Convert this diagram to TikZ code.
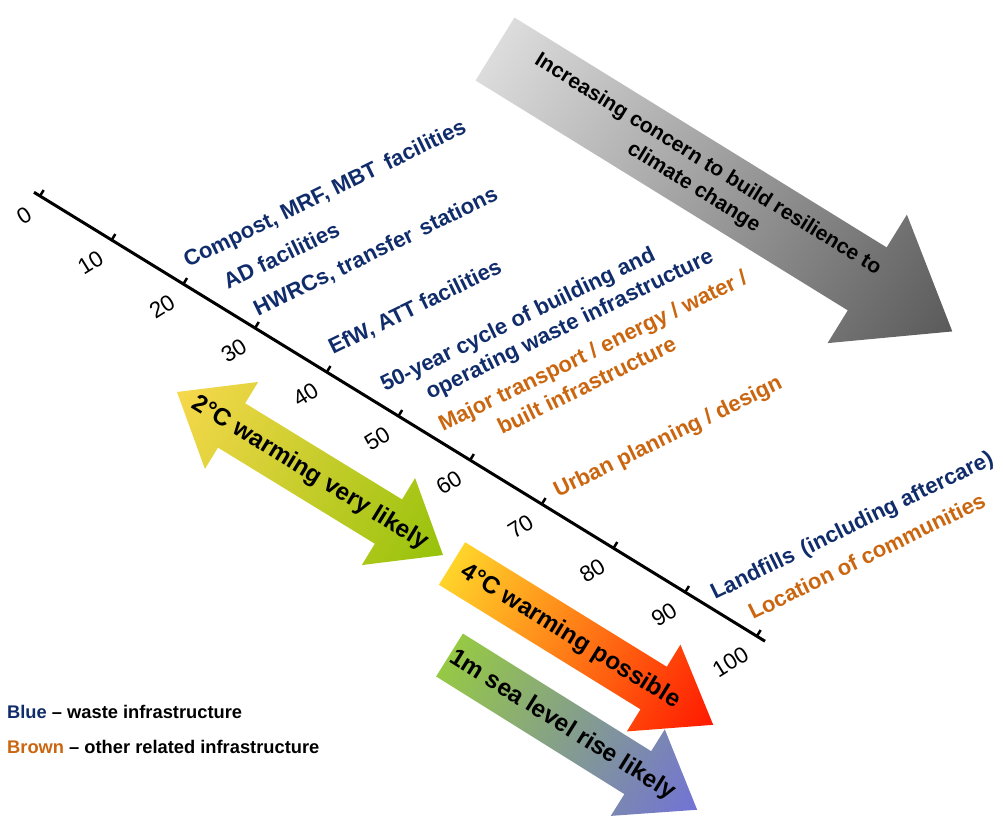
\documentclass[tikz,border=0pt]{standalone}
\usepackage{fontspec}
\setmainfont{Liberation Sans}
\usetikzlibrary{calc}
\definecolor{wasteblue}{HTML}{102C6A}
\definecolor{otherbrown}{HTML}{CB6610}
\definecolor{greylight}{HTML}{DCDCDC}
\definecolor{greydark}{HTML}{5A5A5A}
\definecolor{warmyellow}{HTML}{F7D84C}
\definecolor{warmgreen}{HTML}{97C20B}
\definecolor{hotyellow}{HTML}{FFD42A}
\definecolor{hotorange}{HTML}{FE9E1C}
\definecolor{hotred}{HTML}{FF1800}
\definecolor{seagreen}{HTML}{96C944}
\definecolor{seablue}{HTML}{7272D6}
\begin{document}
\begin{tikzpicture}[x=1pt,y=-1pt,
  lbl/.style={anchor=base west, inner sep=0pt, rotate=26,
    font=\fontsize{22}{26}\selectfont\bfseries},
  bluelbl/.style={lbl, text=wasteblue},
  brownlbl/.style={lbl, text=otherbrown},
  ticklbl/.style={anchor=east, inner sep=0pt, rotate=32,
    font=\fontsize{22.5}{26}\selectfont},
  arrowtxt/.style={inner sep=0pt, font=\fontsize{24.3}{28}\selectfont\bfseries},
  axisline/.style={line width=3pt},
  tickmark/.style={line width=2.5pt},
  legend/.style={anchor=base west, inner sep=0pt,
    font=\fontsize{18.3}{22}\selectfont\bfseries}]
\useasboundingbox (0,0) rectangle (1003,816);

% big grey trend arrow
\begin{scope}[transform canvas={shift={(495,49)}, rotate=-31.7}]
  \shade[left color=greylight, right color=greydark]
    (0,-37) -- (437.5,-37) -- (437.5,-75.5) -- (537.5,0)
    -- (437.5,75.5) -- (437.5,37) -- (0,37) -- cycle;
\end{scope}
\node[align=center, inner sep=0pt, rotate=-31.7,
  font=\fontsize{21}{27}\selectfont\bfseries]
  (concern) at (700.7,176.5) {Increasing concern to build resilience to\\climate change};

% 2 degree double arrow
\begin{scope}[transform canvas={shift={(310,473.5)}, rotate=-31.5}]
  \shade[left color=warmyellow, right color=warmgreen]
    (-156,0) -- (-92,-51) -- (-92,-26) -- (92,-26) -- (92,-51) -- (156,0)
    -- (92,51) -- (92,26) -- (-92,26) -- (-92,51) -- cycle;
\end{scope}
\node[arrowtxt, rotate=-31.5] (twodeg) at (310,473.5) {2°C warming very likely};

% sea level arrow
\begin{scope}[transform canvas={shift={(449.5,655)}, rotate=-32}]
  \shade[left color=seagreen, right color=seablue]
    (0,-25.3) -- (222,-25.3) -- (222,-51) -- (292,0)
    -- (222,51) -- (222,25.3) -- (0,25.3) -- cycle;
\end{scope}
\node[arrowtxt, rotate=-32] (sealevel) at (562.3,725.5) {1m sea level rise likely};

% 4 degree arrow
\begin{scope}[transform canvas={shift={(452,563.5)}, rotate=-31.7}]
  \shade[left color=hotyellow, middle color=hotorange, right color=hotred]
    (0,-25) -- (237,-25) -- (237,-51) -- (307,0)
    -- (237,51) -- (237,25) -- (0,25) -- cycle;
\end{scope}
\node[arrowtxt, rotate=-31.7] (fourdeg) at (570.3,636.5) {4°C warming possible};

% time axis
\coordinate (axS) at (34,192.3);
\coordinate (axE) at (765,641.2);
\draw[axisline] (axS) -- (axE);
\foreach \k [evaluate=\k as \v using int(10*\k)] in {0,...,10} {
  \coordinate (tk\k) at ({40+71.7*\k},{196+44*\k});
  \coordinate (tkend\k) at ($(tk\k)+(3.66,-5.97)$);
  \draw[tickmark] (tk\k) -- (tkend\k);
  \node[ticklbl] (tl\k) at ($(tk\k)+(-10.5,16)$) {\v};
}

% infrastructure lifetimes
\node[bluelbl] (compost) at (188,268) {Compost, MRF, MBT\hspace{4pt} facilities};
\node[bluelbl] (adfac) at (228,290) {AD facilities};
\node[bluelbl] (hwrc) at (258,317) {HWRCs, transfer\hspace{3pt} stations};
\node[bluelbl] (efw) at (333,355) {EfW, ATT facilities};
\node[bluelbl] (cycleA) at (385,392) {50-year cycle of building and};
\node[bluelbl] (cycleB) at (430,400) {operating waste infrastructure};
\node[brownlbl] (majorA) at (443,432) {Major transport / energy / water /};
\node[brownlbl] (majorB) at (502,435) {built infrastructure};
\node[brownlbl] (urban) at (558,498) {Urban planning / design};
\node[bluelbl] (landfill) at (715,600) {Landfills\hspace{3pt} (including aftercare)};
\node[brownlbl] (location) at (753,620) {Location of communities};

% key
\node[legend] (keyblue) at (7,718)
  {\textcolor{wasteblue}{Blue} \textendash{} waste infrastructure};
\node[legend] (keybrown) at (7,753)
  {\textcolor{otherbrown}{Brown} \textendash{} other related infrastructure};
\end{tikzpicture}
\end{document}
